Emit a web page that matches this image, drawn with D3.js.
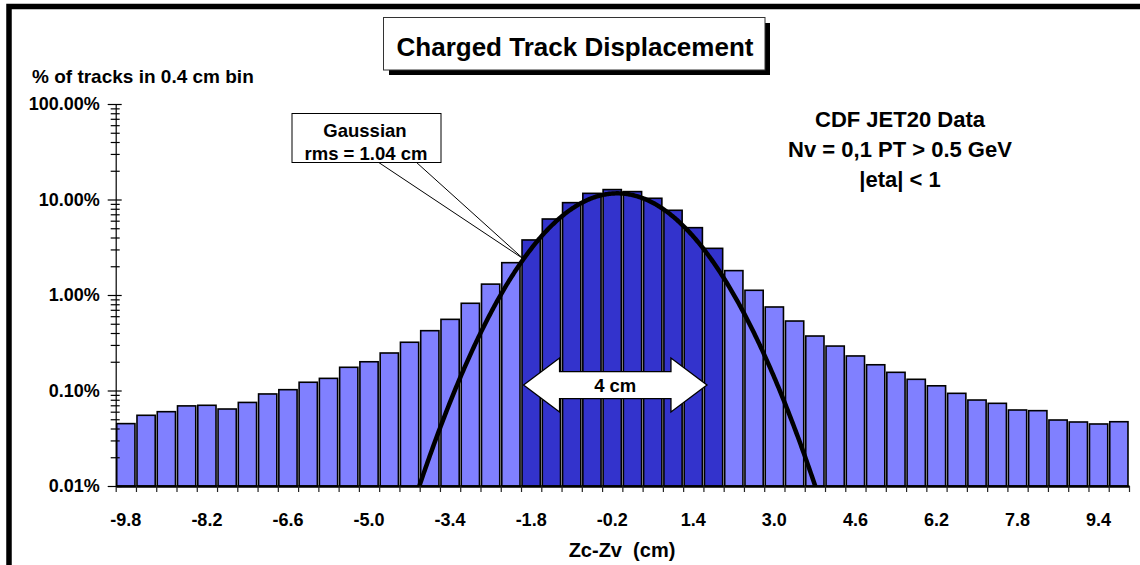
<!DOCTYPE html>
<html>
<head>
<meta charset="utf-8">
<script src="https://cdn.jsdelivr.net/npm/d3@7"></script>
<style>
  body { margin: 0; background: #fff; }
  svg { display: block; font-family: "Liberation Sans", Arial, sans-serif; font-weight: bold; }
</style>
</head>
<body>
<svg id="chart"></svg>
<script>
// bin centres in cm (0.4 cm bins)
const binCenters = [-9.8,-9.4,-9.0,-8.6,-8.2,-7.8,-7.4,-7.0,-6.6,-6.2,-5.8,-5.4,-5.0,-4.6,-4.2,-3.8,-3.4,-3.0,-2.6,-2.2,
                    -1.8,-1.4,-1.0,-0.6,-0.2,0.2,0.6,1.0,1.4,1.8,2.2,2.6,3.0,3.4,3.8,4.2,4.6,5.0,5.4,5.8,
                    6.2,6.6,7.0,7.4,7.8,8.2,8.6,9.0,9.4,9.8];
// % of tracks in each bin
const trackPct = [0.045,0.055,0.060,0.069,0.070,0.064,0.075,0.092,0.102,0.122,0.134,0.175,0.200,0.247,0.320,0.423,0.556,0.819,1.30,2.18,
                  3.77,6.25,9.27,11.6,12.7,12.1,10.3,7.71,5.07,3.08,1.80,1.12,0.749,0.534,0.372,0.292,0.230,0.186,0.155,0.131,
                  0.112,0.0934,0.0795,0.0734,0.0625,0.0615,0.0491,0.0468,0.0446,0.0471];
const xTickLabels = ["-9.8","-8.2","-6.6","-5.0","-3.4","-1.8","-0.2","1.4","3.0","4.6","6.2","7.8","9.4"];
const yTickValues = [100, 10, 1, 0.1, 0.01];
const yTickLabels = ["100.00%","10.00%","1.00%","0.10%","0.01%"];
const infoLines = ["CDF JET20 Data", "Nv = 0,1 PT > 0.5 GeV", "|eta| < 1"];
const gaussPeak = 11.6, gaussMean = -0.1, gaussRms = 1.04;
const innerWindow = [-1.8, 1.8];   // dark bins, 4 cm wide

window.addEventListener('load', () => {
  let width = 1140, height = 565;
  let left = 115.7, right = 1129, top = 104, bottom = 486;

  let svg = d3.select("#chart").attr("width", width).attr("height", height);

  let x = d3.scaleBand().domain(binCenters).range([left, right]).paddingInner(0.1).paddingOuter(0.05);
  let xv = d3.scaleLinear().domain([-10, 10]).range([left, right]);
  let y = d3.scaleLog().domain([0.01, 100]).range([bottom, top]);

  // outer frame
  svg.append("rect").attr("x", 9).attr("y", 6.5).attr("width", 1200).attr("height", 600)
     .attr("fill", "none").attr("stroke", "black").attr("stroke-width", 5.5);

  // bars
  svg.append("g").selectAll("rect")
     .data(binCenters)
     .enter()
     .append("rect")
       .attr("x", d => x(d))
       .attr("width", x.bandwidth())
       .attr("y", (d, i) => y(trackPct[i]))
       .attr("height", (d, i) => bottom - y(trackPct[i]))
       .attr("fill", d => (d >= innerWindow[0] - 1e-9 && d <= innerWindow[1] + 1e-9) ? "#3333CC" : "#8080FF")
       .attr("stroke", "black")
       .attr("stroke-width", 1.6);

  // x axis
  let edges = binCenters.map(c => c - 0.2).concat([binCenters[binCenters.length - 1] + 0.2]);
  let xAxis = svg.append("g")
     .attr("transform", "translate(0," + bottom + ")")
     .call(d3.axisBottom(xv).tickValues(edges).tickSize(6).tickSizeOuter(0).tickFormat(""));
  xAxis.select(".domain").attr("stroke-width", 2.5);
  xAxis.selectAll(".tick line").attr("stroke", "#222").attr("stroke-width", 1.2);

  svg.append("g").selectAll("text")
     .data(xTickLabels)
     .enter()
     .append("text")
       .attr("x", d => x(+d) + x.bandwidth() / 2)
       .attr("y", 526)
       .attr("text-anchor", "middle")
       .style("font-size", "18px")
       .text(d => d);

  // y axis, major and minor ticks crossing the line
  let minorTicks = [];
  [0.01, 0.1, 1, 10].forEach(dec => { for (let k = 2; k <= 9; k++) minorTicks.push(dec * k); });

  let yMinor = svg.append("g")
     .attr("transform", "translate(" + left + ",0)")
     .call(d3.axisLeft(y).tickValues(minorTicks).tickSize(5).tickFormat(""));
  yMinor.selectAll(".tick line").attr("x1", 4).attr("stroke-width", 1.2);
  yMinor.select(".domain").remove();

  let yAxis = svg.append("g")
     .attr("transform", "translate(" + left + ",0)")
     .call(d3.axisLeft(y).tickValues(yTickValues).tickSize(8).tickSizeOuter(0).tickPadding(8)
             .tickFormat(d => yTickLabels[yTickValues.indexOf(d)]));
  yAxis.selectAll(".tick line").attr("x1", 6).attr("stroke-width", 1.2);
  yAxis.select(".domain").attr("stroke-width", 1.2);
  yAxis.selectAll("text")
     .style("font-size", "18px")
     .style("font-family", "'Liberation Sans', Arial, sans-serif")
     .style("font-weight", "bold")
     .attr("fill", "black");

  // axis titles
  svg.append("text")
     .attr("x", 32).attr("y", 83)
     .style("font-size", "19px")
     .text("% of tracks in 0.4 cm bin");

  svg.append("text")
     .attr("x", 622).attr("y", 557)
     .attr("text-anchor", "middle")
     .style("font-size", "20px")
     .style("white-space", "pre")
     .text("Zc-Zv  (cm)");

  // gaussian fit
  let gauss = v => gaussPeak * Math.exp(-Math.pow(v - gaussMean, 2) / (2 * gaussRms * gaussRms));
  svg.append("clipPath").attr("id", "plotclip")
     .append("rect").attr("x", left).attr("y", top).attr("width", right - left).attr("height", bottom - top);

  let xs = d3.range(-4.3, 4.1, 0.02);
  svg.append("path")
     .datum(xs)
     .attr("clip-path", "url(#plotclip)")
     .attr("fill", "none")
     .attr("stroke", "black")
     .attr("stroke-width", 4.5)
     .attr("d", d3.line().x(d => xv(d)).y(d => y(Math.max(gauss(d), 0.001))));

  // 4 cm double arrow
  let ax0 = xv(-1.95), ax1 = xv(1.67), ay = y(0.114);
  let headLen = 36, shaft = 13.5, head = 27;
  let arrowPts = [
    [ax0, ay], [ax0 + headLen, ay - head], [ax0 + headLen, ay - shaft],
    [ax1 - headLen, ay - shaft], [ax1 - headLen, ay - head], [ax1, ay],
    [ax1 - headLen, ay + head], [ax1 - headLen, ay + shaft],
    [ax0 + headLen, ay + shaft], [ax0 + headLen, ay + head]
  ];
  svg.append("path")
     .attr("d", d3.line()(arrowPts) + "Z")
     .attr("fill", "white")
     .attr("stroke", "black")
     .attr("stroke-width", 1.3);
  svg.append("text")
     .attr("x", (ax0 + ax1) / 2).attr("y", ay + 7)
     .attr("text-anchor", "middle")
     .style("font-size", "18.5px")
     .text("4 cm");

  // gaussian callout
  let anchorX = xv(-1.95), anchorY = y(gauss(-1.95));
  svg.append("line").attr("x1", 378).attr("y1", 162).attr("x2", anchorX).attr("y2", anchorY)
     .attr("stroke", "black").attr("stroke-width", 1);
  svg.append("line").attr("x1", 416).attr("y1", 162).attr("x2", anchorX).attr("y2", anchorY)
     .attr("stroke", "black").attr("stroke-width", 1);
  svg.append("rect").attr("x", 292).attr("y", 113.5).attr("width", 149).attr("height", 49)
     .attr("fill", "white").attr("stroke", "black").attr("stroke-width", 1);
  svg.append("text").attr("x", 365).attr("y", 137).attr("text-anchor", "middle")
     .style("font-size", "18.5px").text("Gaussian");
  svg.append("text").attr("x", 366).attr("y", 160).attr("text-anchor", "middle")
     .style("font-size", "18.5px").text("rms = 1.04 cm");

  // title box with shadow
  svg.append("rect").attr("x", 389).attr("y", 23).attr("width", 381).attr("height", 52).attr("fill", "black");
  svg.append("rect").attr("x", 383.5).attr("y", 17.5).attr("width", 381.5).attr("height", 52.5)
     .attr("fill", "white").attr("stroke", "#333").attr("stroke-width", 1);
  svg.append("text").attr("x", 575).attr("y", 56).attr("text-anchor", "middle")
     .style("font-size", "26px").text("Charged Track Displacement");

  // info text
  svg.append("g").selectAll("text")
     .data(infoLines)
     .enter()
     .append("text")
       .attr("x", 900)
       .attr("y", (d, i) => 127 + i * 30)
       .attr("text-anchor", "middle")
       .style("font-size", "22px")
       .text(d => d);
});
</script>
</body>
</html>
